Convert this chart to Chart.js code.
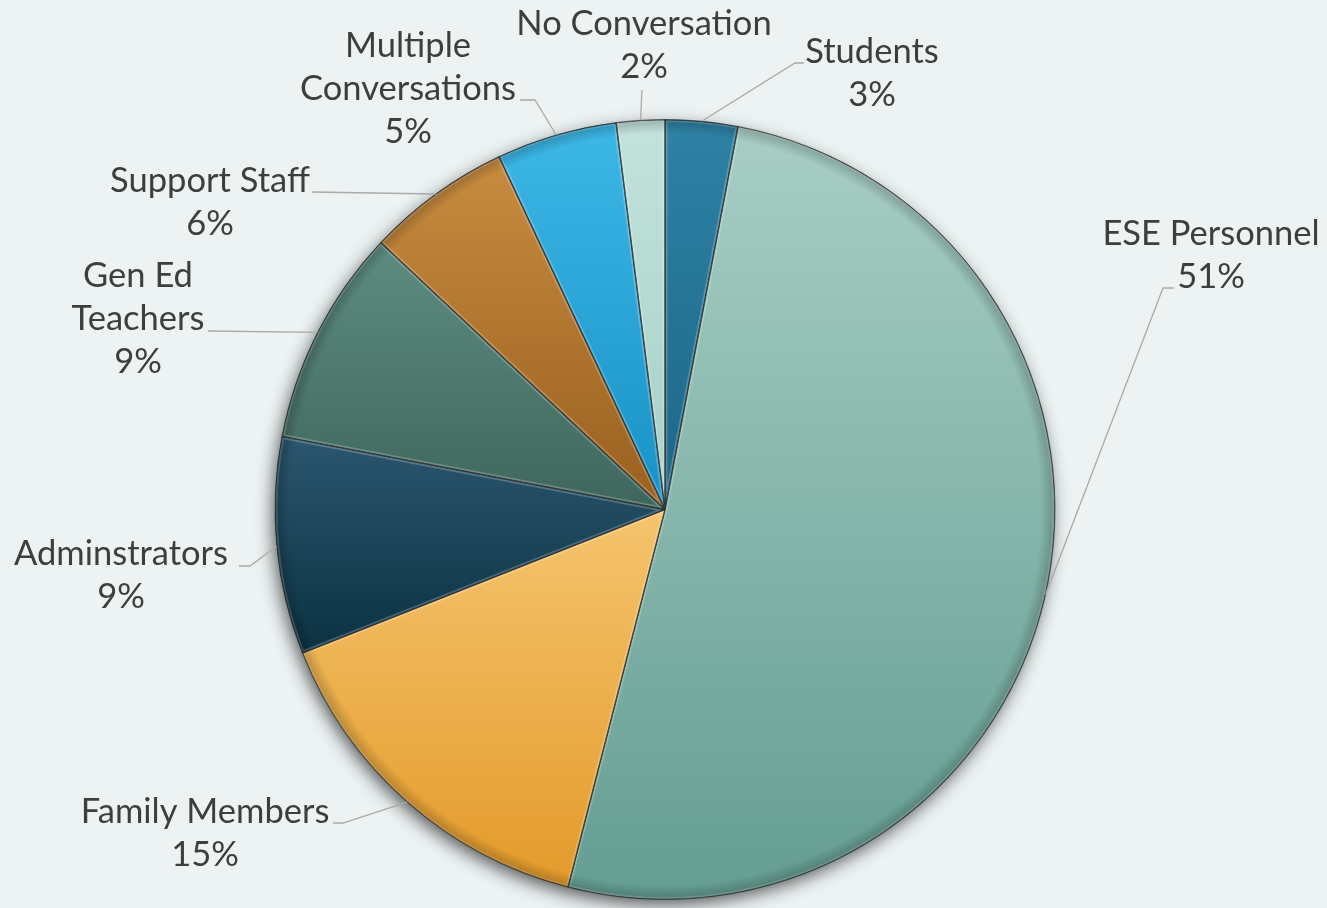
<!DOCTYPE html>
<html>
<head>
<meta charset="utf-8">
<script src="https://cdn.jsdelivr.net/npm/chart.js@4.4.1/dist/chart.umd.min.js"></script>
<style>
  html, body { margin: 0; padding: 0; background: #EDF3F3; }
  #wrap { width: 1327px; height: 908px; position: relative; }
  canvas { display: block; }
</style>
</head>
<body>
<div id="wrap"><canvas id="c" width="1327" height="908"></canvas></div>
<script>
// ---- data ----
const categories = ['Students', 'ESE Personnel', 'Family Members', 'Adminstrators',
                    'Gen Ed Teachers', 'Support Staff', 'Multiple Conversations', 'No Conversation'];
const values = [3, 51, 15, 9, 9, 6, 5, 2];
const labelLines = [['Students'], ['ESE Personnel'], ['Family Members'], ['Adminstrators'],
                    ['Gen Ed', 'Teachers'], ['Support Staff'], ['Multiple', 'Conversations'], ['No Conversation']];

// ---- styles / layout (separate from data) ----
const topColors    = ['#2E82A5', '#A8CEC4', '#F5C46E', '#2B566F', '#5E8C80', '#C88C40', '#3DB7E6', '#C3E3DC'];
const bottomColors = ['#1C6687', '#649D92', '#E39A2A', '#0B3242', '#3F665C', '#985F1F', '#1892C6', '#A5D0C6'];
const labelPos    = [[872, 63], [1211, 245], [205, 823], [121, 565], [138, 287], [210, 192], [408, 57], [644, 35]];
const leaderStart = [[804, 63], [1174, 288], [333, 823], [239, 566], [208, 331], [312, 192], [520, 100], [642, 90]];
const leaderElbow = [[795, 63], [1163, 288], [343, 823], [250, 566], null, null, [535, 100], null];

const total = values.reduce((a, b) => a + b, 0);

function sliceGradient(ctx) {
  const chart = ctx.chart;
  const ca = chart.chartArea;
  const i = ctx.dataIndex;
  if (!ca) return topColors[i];
  const cx = (ca.left + ca.right) / 2, cy = (ca.top + ca.bottom) / 2;
  const r = 390;
  let cum = 0;
  for (let k = 0; k < i; k++) cum += values[k];
  const a0 = -Math.PI / 2 + cum / total * 2 * Math.PI;
  const a1 = a0 + values[i] / total * 2 * Math.PI;
  let ys = [cy, cy + r * Math.sin(a0), cy + r * Math.sin(a1)];
  const inArc = (a) => { let t = a; while (t < a0) t += 2 * Math.PI; return t <= a1; };
  if (inArc(-Math.PI / 2)) ys.push(cy - r);
  if (inArc(Math.PI / 2)) ys.push(cy + r);
  const y0 = Math.min(...ys), y1 = Math.max(...ys);
  const g = chart.ctx.createLinearGradient(0, y0, 0, y1 + 0.01);
  g.addColorStop(0, topColors[i]);
  g.addColorStop(1, bottomColors[i]);
  return g;
}

const decor = {
  id: 'decor',
  beforeDraw(chart) {
    const c = chart.ctx;
    c.save();
    c.fillStyle = '#EDF3F3';
    c.fillRect(0, 0, chart.width, chart.height);
    c.restore();
  },
  beforeDatasetsDraw(chart) {
    const arc = chart.getDatasetMeta(0).data[0];
    const c = chart.ctx;
    c.save();
    c.shadowColor = 'rgba(0,0,0,0.65)';
    c.shadowBlur = 18;
    c.shadowOffsetX = -3;
    c.shadowOffsetY = 6;
    c.fillStyle = '#7a9a94';
    c.beginPath();
    c.arc(arc.x, arc.y, arc.outerRadius - 1, 0, Math.PI * 2);
    c.fill();
    c.restore();
  },
  afterDatasetsDraw(chart) {
    const c = chart.ctx;
    const meta = chart.getDatasetMeta(0);
    // bevel highlights per slice
    meta.data.forEach((arc) => {
      c.save();
      c.beginPath();
      c.moveTo(arc.x, arc.y);
      c.arc(arc.x, arc.y, arc.outerRadius, arc.startAngle, arc.endAngle);
      c.closePath();
      c.clip();
      c.lineWidth = 5;
      c.strokeStyle = 'rgba(255,255,255,0.22)';
      c.stroke();
      // rim shading
      const g = c.createRadialGradient(arc.x, arc.y, arc.outerRadius - 14, arc.x, arc.y, arc.outerRadius);
      g.addColorStop(0, 'rgba(0,0,0,0)');
      g.addColorStop(1, 'rgba(0,0,0,0.22)');
      c.fillStyle = g;
      c.fill();
      c.lineWidth = 1.4;
      c.strokeStyle = 'rgba(20,20,20,0.65)';
      c.stroke();
      c.restore();
    });
    // leader lines
    c.save();
    c.strokeStyle = '#A9AAAA';
    c.lineWidth = 1.3;
    meta.data.forEach((arc, i) => {
      const mid = (arc.startAngle + arc.endAngle) / 2;
      const ex = arc.x + Math.cos(mid) * arc.outerRadius;
      const ey = arc.y + Math.sin(mid) * arc.outerRadius;
      c.beginPath();
      c.moveTo(leaderStart[i][0], leaderStart[i][1]);
      if (leaderElbow[i]) c.lineTo(leaderElbow[i][0], leaderElbow[i][1]);
      c.lineTo(ex, ey);
      c.stroke();
    });
    c.restore();
    // labels
    c.save();
    c.font = '34.5px Lato';
    c.fillStyle = '#3E3E3E';
    c.textAlign = 'center';
    c.textBaseline = 'alphabetic';
    labelLines.forEach((lines, i) => {
      const pct = Math.round(values[i] / total * 100) + '%';
      const all = lines.concat([pct]);
      all.forEach((t, k) => c.fillText(t, labelPos[i][0], labelPos[i][1] + k * 43));
    });
    c.restore();
  }
};

new Chart(document.getElementById('c'), {
  type: 'pie',
  data: {
    labels: categories,
    datasets: [{
      data: values,
      backgroundColor: sliceGradient,
      borderColor: 'rgba(20,20,20,0.55)',
      borderWidth: 1
    }]
  },
  options: {
    responsive: false,
    animation: false,
    radius: 390,
    layout: { padding: { top: 119, bottom: 8, left: 3, right: 0 } },
    plugins: { legend: { display: false }, tooltip: { enabled: false } }
  },
  plugins: [decor]
});
</script>
</body>
</html>
